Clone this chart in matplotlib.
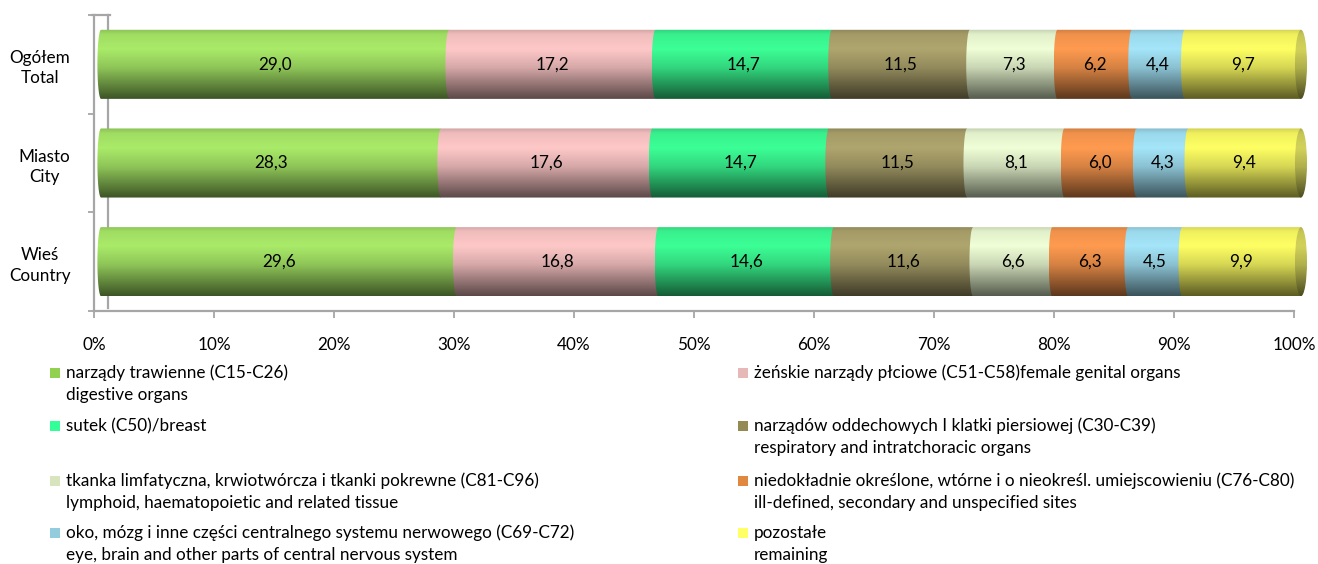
import numpy as np
import matplotlib
matplotlib.use("Agg")
import matplotlib.pyplot as plt
import matplotlib.transforms as mtransforms
from matplotlib.patches import Polygon, Ellipse, Rectangle
from matplotlib.colors import to_rgb

plt.rcParams['font.family'] = ['Lato', 'DejaVu Sans']

# ---- data ----------------------------------------------------------------
groups = ['Ogółem\nTotal', 'Miasto\nCity', 'Wieś\nCountry']
digestive = [29.0, 28.3, 29.6]
genital = [17.2, 17.6, 16.8]
breast = [14.7, 14.7, 14.6]
respiratory = [11.5, 11.5, 11.6]
lymphoid = [7.3, 8.1, 6.6]
ill_defined = [6.2, 6.0, 6.3]
cns = [4.4, 4.3, 4.5]
remaining = [9.7, 9.4, 9.9]

series = [digestive, genital, breast, respiratory, lymphoid, ill_defined, cns, remaining]
legend_pl = ['narządy trawienne (C15-C26)',
             'żeńskie narządy płciowe (C51-C58)female genital organs',
             'sutek (C50)/breast',
             'narządów oddechowych I klatki piersiowej (C30-C39)',
             'tkanka limfatyczna, krwiotwórcza i tkanki pokrewne (C81-C96)',
             'niedokładnie określone, wtórne i o nieokreśl. umiejscowieniu (C76-C80)',
             'oko, mózg i inne części centralnego systemu nerwowego (C69-C72)',
             'pozostałe']
legend_en = ['digestive organs',
             '',
             '',
             'respiratory and intratchoracic organs',
             'lymphoid, haematopoietic and related tissue',
             'ill-defined, secondary and unspecified sites',
             'eye, brain and other parts of central nervous system',
             'remaining']
x_ticks = [0, 10, 20, 30, 40, 50, 60, 70, 80, 90, 100]

# ---- style -----------------------------------------------------------------
bar_colors = ['#AAEB69', '#FFC8C8', '#3CFF96', '#AFA56E', '#F0FFD7', '#FF9B50', '#A5E6FA', '#FFFF64']
marker_colors = ['#92D050', '#E6B9B8', '#33FF99', '#948A54', '#D7E4BD', '#E0883F', '#93CDDD', '#FFFF66']
cap_color = '#D2D25A'
grey = '#A6A6A6'
W, H = 1318, 564
fs = 12.3
bar_h = 0.70
arc = 0.3      # curvature of the slice boundaries (data units)
cap_w = 0.5    # half width of the end cap


def shade(base, n=80):
    t = np.linspace(0, 1, n)
    f = np.interp(t, [0, 0.07, 0.28, 0.55, 1.0], [0.82, 0.94, 1.0, 0.84, 0.36])
    rgb = np.array(to_rgb(base))
    return np.clip(rgb[None, :] * f[:, None], 0, 1)[:, None, :]


def gradient_fill(ax, patch, color, extent, trans, z):
    ax.add_patch(patch)
    im = ax.imshow(shade(color), extent=extent, origin='upper', aspect='auto',
                   transform=trans, interpolation='bilinear', zorder=z)
    im.set_clip_path(patch)
    im.set_clip_box(ax.figure.bbox)   # let the cylinder poke out past 100%
    return im


fig = plt.figure(figsize=(W / 100, H / 100), dpi=100)
ax = fig.add_axes([94 / W, 1 - 311 / H, 1200 / W, 296 / H])

# bars are drawn a few pixels to the right (3d depth)
trans = mtransforms.offset_copy(ax.transData, fig=fig, x=7, y=0, units='dots')

ypos = [2, 1, 0]
theta = np.linspace(np.pi / 2, -np.pi / 2, 40)
for yi, yc in enumerate(ypos):
    vals = [s[yi] for s in series]
    total = sum(vals)
    start = 0.0
    y0, y1 = yc - bar_h / 2, yc + bar_h / 2
    for k, v in enumerate(vals):
        w = v / total * 100
        end = start + w
        pts = [(end, y1), (start, y1)]
        pts += [(start - arc * np.cos(th), yc + bar_h / 2 * np.sin(th)) for th in theta]
        pts += [(start, y0), (end, y0)]
        poly = Polygon(pts, closed=True, transform=trans, facecolor='none',
                       edgecolor='none', clip_on=False)
        gradient_fill(ax, poly, bar_colors[k], [start - arc, end, y0, y1], trans, 2)
        ax.text(start + w / 2, yc, f'{v:.1f}'.replace('.', ','), transform=trans,
                ha='center', va='center', fontsize=fs, color='black', zorder=5)
        start = end
    cap = Ellipse((100, yc), 2 * cap_w, bar_h, transform=trans, facecolor='none',
                  edgecolor='none', clip_on=False)
    gradient_fill(ax, cap, cap_color, [100 - cap_w, 100 + cap_w, y0, y1], trans, 3)

ax.set_xlim(0, 100)
ax.set_ylim(-0.5, 2.5)

# axes
for side in ['top', 'right']:
    ax.spines[side].set_visible(False)
for side in ['left', 'bottom']:
    ax.spines[side].set_color(grey)
    ax.spines[side].set_linewidth(1.6)
ax.set_xticks(x_ticks)
ax.set_xticklabels([f'{t}%' for t in x_ticks], fontsize=fs)
ax.tick_params(axis='x', length=5, color=grey, width=1.3, pad=14)
ax.set_yticks(ypos)
ax.set_yticklabels(groups, fontsize=fs, multialignment='center', linespacing=1.35)
ax.tick_params(axis='y', which='major', length=0, pad=17)
ax.set_yticks([-0.5, 0.5, 1.5, 2.5], minor=True)
ax.tick_params(axis='y', which='minor', length=4, color=grey, width=1.3)

# back wall of the 3d chart
wall = mtransforms.offset_copy(ax.get_xaxis_transform(), fig=fig, x=14, y=0, units='dots')
ax.plot([0, 0], [0.01, 1], transform=wall, color=grey, lw=1.6, clip_on=False, zorder=1)
ax.plot([-0.2, 1.3], [1, 1], transform=ax.get_xaxis_transform(), color=grey, lw=1.6,
        clip_on=False, zorder=1)

# legend (two columns, row-major like the original)
rows_y = [373, 426, 481, 533]
cols_x = [50, 738]
for k in range(len(series)):
    r, c = divmod(k, 2)
    mx, my = cols_x[c], rows_y[r]
    fig.add_artist(Rectangle((mx / W, 1 - (my + 5) / H), 10 / W, 10 / H,
                             transform=fig.transFigure, facecolor=marker_colors[k],
                             edgecolor='none'))
    fig.text((mx + 16) / W, 1 - my / H, legend_pl[k], fontsize=fs, va='center', ha='left')
    if legend_en[k]:
        fig.text((mx + 16) / W, 1 - (my + 22) / H, legend_en[k], fontsize=fs,
                 va='center', ha='left')

fig.savefig('out.png', dpi=100)
